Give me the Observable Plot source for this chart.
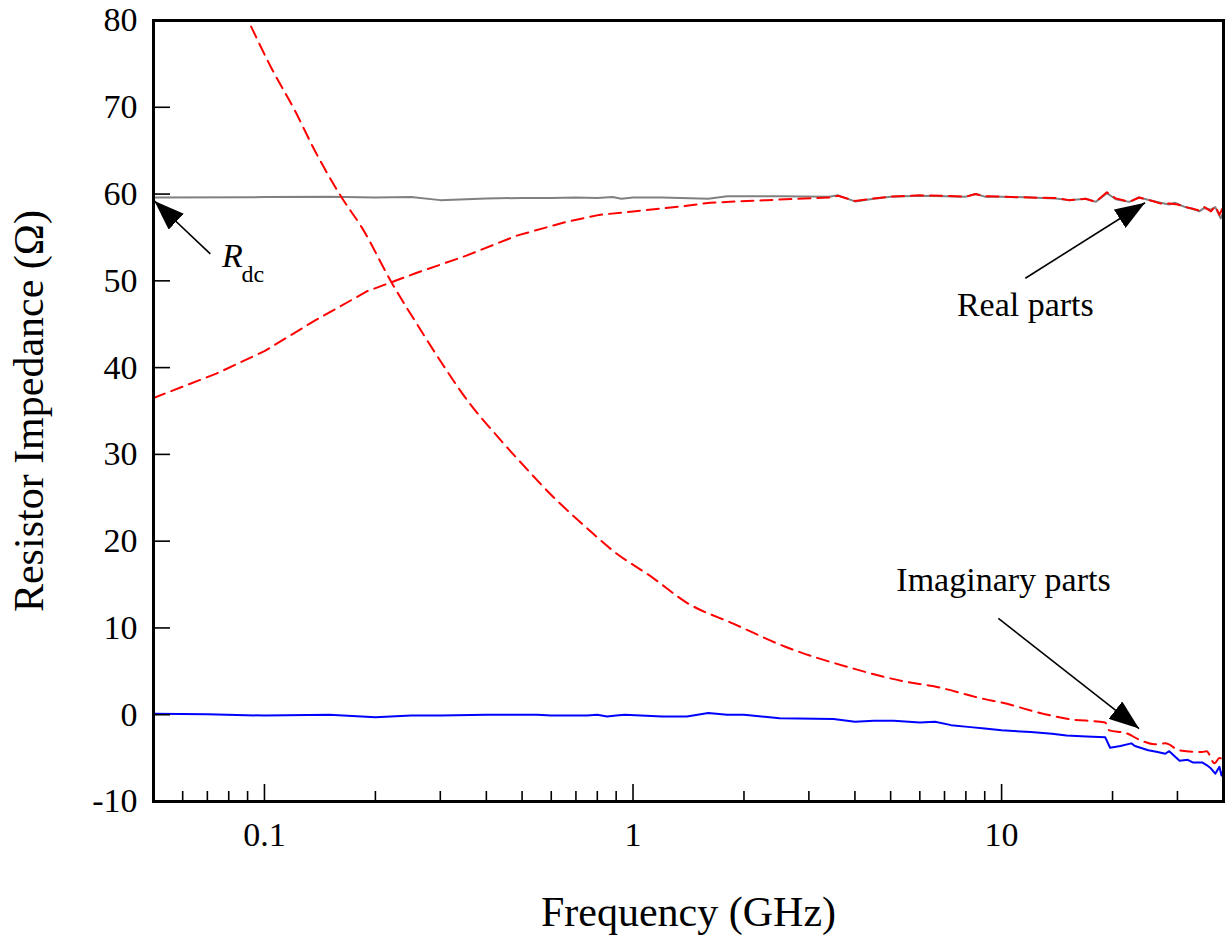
<!DOCTYPE html>
<html><head><meta charset="utf-8">
<script src="https://cdn.jsdelivr.net/npm/d3@7"></script>
<script src="https://cdn.jsdelivr.net/npm/@observablehq/plot@0.6"></script>
<style>body{margin:0;background:#fff} svg{display:block}</style>
</head><body><div id="chart"></div>
<script>
// ---- Data (frequency in GHz, impedance in ohms) ----
const measRealFreq = [0.05,0.1,0.15,0.2,0.25,0.3,0.4,0.5,0.6,0.7,0.8,0.88,0.93,1.0,1.2,1.6,1.8,2.5,3.4,3.6,4.0,4.5,5.0,6.0,7.0,8.0,8.5,9.0,10,12,14,15.2,16.9,18,19.3,20.4,22.2,23.6,25.7,27,28.5,29.5,31.5,33,34.4,35.5,37,38,39.3,40];
const measReal     = [59.6,59.65,59.7,59.6,59.65,59.3,59.5,59.55,59.55,59.6,59.55,59.65,59.45,59.6,59.6,59.45,59.75,59.75,59.7,59.85,59.15,59.45,59.7,59.8,59.75,59.7,60.0,59.7,59.7,59.6,59.5,59.3,59.45,59.1,60.1,59.4,59.1,59.6,59.2,59.0,58.8,59.0,58.5,58.3,58.0,58.4,58.2,58.5,57.2,57.9];

const measImagFreq = [0.05,0.07,0.1,0.15,0.2,0.25,0.3,0.4,0.55,0.6,0.75,0.8,0.85,0.9,0.95,1.2,1.4,1.6,1.8,2.0,2.5,3.5,4.0,4.5,5.1,6.0,6.6,7.3,8.1,9,10,12,13.7,15,17,19.1,19.7,21,22.5,23,25,26.5,27.8,28.5,30.4,32,33,35,36,37,38,39,39.5,40];
const measImag     = [0.1,0.05,-0.1,0.0,-0.3,-0.1,-0.1,0.0,0.0,-0.1,-0.1,0.0,-0.2,-0.1,0.0,-0.2,-0.2,0.2,0.0,0.0,-0.4,-0.5,-0.8,-0.7,-0.7,-0.9,-0.8,-1.2,-1.4,-1.6,-1.8,-2.0,-2.2,-2.4,-2.5,-2.6,-3.8,-3.6,-3.3,-3.6,-4.1,-4.3,-4.5,-4.2,-5.3,-5.2,-5.5,-5.5,-5.8,-6.2,-6.8,-6.0,-7.0,-6.3];

const modelRealFreq = [0.05,0.074,0.1,0.138,0.19,0.258,0.353,0.483,0.66,0.81,1.0,1.37,1.62,2.3,3.44,3.6,4.0,4.5,5,6,7,8,8.5,9,10,12,14,15.2,16.9,18,19.3,20.4,22.2,23.6,25.7,27,28.5,30,31.5,33,34.4,35.5,37,38,39,40];
const modelReal     = [36.5,39.3,41.9,45.5,48.8,50.9,52.9,55.2,56.8,57.6,58.0,58.6,59.0,59.3,59.6,59.8,59.2,59.5,59.7,59.85,59.8,59.7,60.0,59.75,59.7,59.6,59.55,59.3,59.45,59.1,60.2,59.5,59.1,59.6,59.2,58.9,58.9,58.8,58.5,58.3,58.1,58.5,58.0,58.6,57.6,58.6];

const modelImagFreq = [0.092,0.1045,0.121,0.137,0.162,0.184,0.222,0.263,0.303,0.36,0.42,0.483,0.621,0.75,0.882,1.13,1.4,1.87,2.6,3.9,5.5,6.5,9.0,10,13,15.2,19.1,19.6,21.7,24,26,27.8,30.4,35,36,37.8,39,40];
const modelImag     = [79.3,74.5,69.6,65.0,59.6,56.1,49.7,44.6,40.5,35.9,32.5,29.6,24.7,21.5,18.9,15.8,12.9,10.5,7.8,5.4,3.8,3.3,1.8,1.4,0.1,-0.5,-0.9,-1.8,-2.1,-3.0,-3.4,-3.3,-4.1,-4.3,-4.2,-5.6,-5.0,-5.1];

const xMajorTicks = [0.1, 1, 10];
const xMinorTicks = [0.06,0.07,0.08,0.09,0.2,0.3,0.4,0.5,0.6,0.7,0.8,0.9,2,3,4,5,6,7,8,9,20,30];
const yTicks = [-10,0,10,20,30,40,50,60,70,80];

const xTitle = "Frequency (GHz)";
const yTitle = "Resistor Impedance (\u03A9)";

// annotation text and arrows (data coordinates)
const notes = [
  {f: 11.6, v: 47.2, text: "Real parts"},
  {f: 10.12, v: 15.55, text: "Imaginary parts"}
];
const rdcMain = [{f: 0.0818, v: 52.8, text: "R"}];
const rdcSub = [{f: 0.0866, v: 50.7, text: "dc"}];
const arrows = [
  {f1: 0.0713, v1: 53.1, f2: 0.0503, v2: 59.2},
  {f1: 11.6, v1: 50.3, f2: 24.5, v2: 59.0},
  {f1: 9.8, v1: 11.1, f2: 23.6, v2: -1.6}
];

const toRows = (fs, vs) => fs.map((f, i) => ({f, v: vs[i]}));

const serif = "'Liberation Serif', 'Times New Roman', serif";

const chart = Plot.plot({
  width: 1225,
  height: 939,
  marginLeft: 153,
  marginRight: 2,
  marginTop: 20,
  marginBottom: 138,
  style: {fontFamily: serif, fontSize: "34px", color: "black", background: "white"},
  x: {type: "log", domain: [0.05, 40]},
  y: {domain: [-10, 80]},
  marks: [
    Plot.line(toRows(measRealFreq, measReal), {x: "f", y: "v", stroke: "#808080", strokeWidth: 2, clip: true}),
    Plot.line(toRows(modelRealFreq, modelReal), {x: "f", y: "v", stroke: "#ff0000", strokeWidth: 2, strokeDasharray: "12,7", clip: true}),
    Plot.line(toRows(modelImagFreq, modelImag), {x: "f", y: "v", stroke: "#ff0000", strokeWidth: 2, strokeDasharray: "12,7", curve: "monotone-x", clip: true}),
    Plot.line(toRows(measImagFreq, measImag), {x: "f", y: "v", stroke: "#0000ff", strokeWidth: 2, clip: true}),
    Plot.frame({stroke: "black", strokeWidth: 3}),
    // y axis: labels and inward ticks
    Plot.axisY({ticks: yTicks, tickSize: 0, tickPadding: 16, tickFormat: d => String(d), label: null, fontSize: 34}),
    Plot.axisY({ticks: yTicks, tickSize: 17, dx: 17, fill: "none", strokeWidth: 1.6, label: null}),
    // x axis: labels, major and minor inward ticks
    Plot.axisX({ticks: xMajorTicks, tickSize: 0, tickPadding: 20, tickFormat: d => String(d), label: null, fontSize: 34}),
    Plot.axisX({ticks: xMajorTicks, tickSize: 17, dy: -17, fill: "none", strokeWidth: 1.6, label: null}),
    Plot.axisX({ticks: xMinorTicks, tickSize: 10, dy: -10, fill: "none", strokeWidth: 1.6, label: null}),
    // axis titles
    Plot.text([xTitle], {text: d => d, frameAnchor: "bottom", lineAnchor: "middle", dy: 111, fontSize: 42}),
    Plot.text([yTitle], {text: d => d, frameAnchor: "left", textAnchor: "middle", lineAnchor: "middle", rotate: -90, dx: -124, fontSize: 42}),
    // annotations
    Plot.link(arrows, {x1: "f1", y1: "v1", x2: "f2", y2: "v2", stroke: "black", strokeWidth: 1.6}),
    Plot.text(notes, {x: "f", y: "v", text: "text", fontSize: 34}),
    Plot.text(rdcMain, {x: "f", y: "v", text: "text", fontSize: 34, fontStyle: "italic"}),
    Plot.text(rdcSub, {x: "f", y: "v", text: "text", fontSize: 24, textAnchor: "start"})
  ]
});

// filled triangular arrowheads for the annotation links
const ns = "http://www.w3.org/2000/svg";
const defs = document.createElementNS(ns, "defs");
const marker = document.createElementNS(ns, "marker");
marker.setAttribute("id", "headTri");
marker.setAttribute("viewBox", "0 0 30 22");
marker.setAttribute("refX", "30");
marker.setAttribute("refY", "11");
marker.setAttribute("markerWidth", "30");
marker.setAttribute("markerHeight", "22");
marker.setAttribute("markerUnits", "userSpaceOnUse");
marker.setAttribute("orient", "auto");
const tri = document.createElementNS(ns, "path");
tri.setAttribute("d", "M0,0L30,11L0,22Z");
tri.setAttribute("fill", "black");
marker.appendChild(tri);
defs.appendChild(marker);
chart.insertBefore(defs, chart.firstChild);
chart.querySelectorAll('g[aria-label="link"] path').forEach(p => p.setAttribute("marker-end", "url(#headTri)"));

document.getElementById("chart").appendChild(chart);
</script></body></html>
